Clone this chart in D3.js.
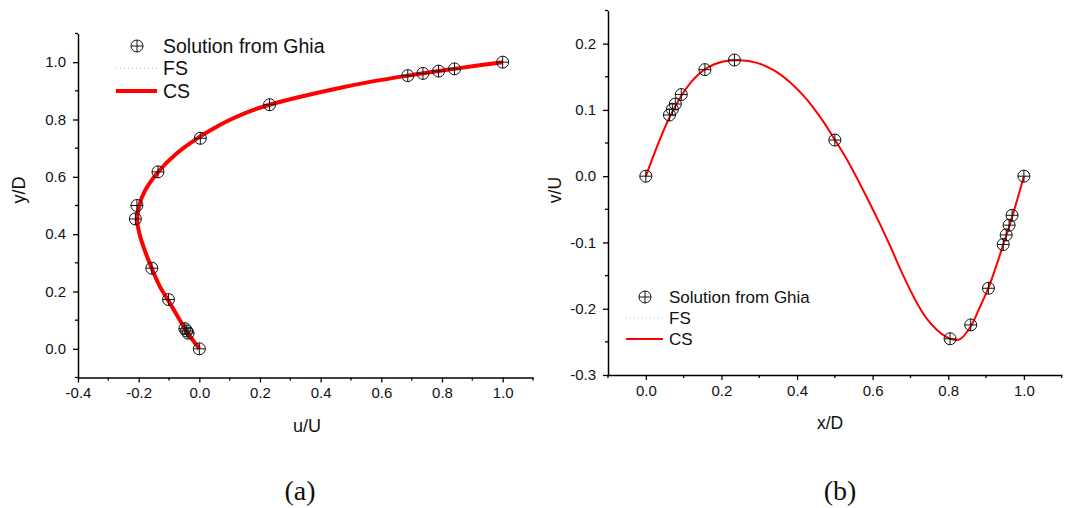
<!DOCTYPE html>
<html><head><meta charset="utf-8">
<script src="https://cdn.jsdelivr.net/npm/d3@7"></script>
<style>body{margin:0;background:#fff}svg{display:block}</style>
</head><body>
<svg id="c" width="1066" height="508"></svg>
<script>
// ---- Data: (a) u-velocity along vertical centerline ----
const ghiaA_u = [1.0, 0.84123, 0.78871, 0.73722, 0.68717, 0.23151, 0.00332, -0.13641, -0.20581, -0.2109, -0.15662, -0.1015, -0.04775, -0.04192, -0.03717, 0.0];
const ghiaA_y = [1.0, 0.9766, 0.9688, 0.9609, 0.9531, 0.8516, 0.7344, 0.6172, 0.5, 0.4531, 0.2813, 0.1719, 0.0703, 0.0625, 0.0547, 0.0];
const csA_y = [0, 0.02, 0.06, 0.1, 0.168, 0.217, 0.281, 0.356, 0.40, 0.45, 0.50, 0.55, 0.618, 0.682, 0.74, 0.7765, 0.8045, 0.8302, 0.8516, 0.8785, 0.9075, 0.9287, 0.9531, 0.9766, 1.0];
const csA_u = [0, -0.014, -0.042, -0.064, -0.102, -0.13, -0.157, -0.184, -0.197, -0.205, -0.198, -0.18, -0.135, -0.074, 0.002, 0.06, 0.112, 0.17, 0.2315, 0.33, 0.45, 0.55, 0.687, 0.84, 1.0];
// ---- Data: (b) v-velocity along horizontal centerline ----
const ghiaB_x = [1.0, 0.9688, 0.9609, 0.9531, 0.9453, 0.9063, 0.8594, 0.8047, 0.5, 0.2344, 0.1563, 0.0938, 0.0781, 0.0703, 0.0625, 0.0];
const ghiaB_v = [0.0, -0.05906, -0.07391, -0.08864, -0.10313, -0.16914, -0.22445, -0.24533, 0.05454, 0.17527, 0.16077, 0.12317, 0.1089, 0.10091, 0.09233, 0.0];
const csB_x = [0, 0.064, 0.117, 0.161, 0.205, 0.249, 0.294, 0.338, 0.382, 0.421, 0.443, 0.47, 0.5, 0.54, 0.589, 0.62, 0.646, 0.681, 0.712, 0.743, 0.77, 0.796, 0.815, 0.831, 0.858, 0.884, 0.906, 0.929, 0.946, 0.964, 1.0];
const csB_v = [0, 0.09, 0.14, 0.163, 0.173, 0.175, 0.171, 0.160, 0.1415, 0.119, 0.1035, 0.082, 0.055, 0.017, -0.037, -0.073, -0.105, -0.150, -0.186, -0.215, -0.232, -0.243, -0.247, -0.246, -0.228, -0.197, -0.169, -0.132, -0.102, -0.071, 0];
// ---- Tick values ----
const ticksA_x = [-0.4, -0.2, 0.0, 0.2, 0.4, 0.6, 0.8, 1.0];
const minorA_x = [-0.3, -0.1, 0.1, 0.3, 0.5, 0.7, 0.9, 1.1];
const ticksA_y = [0.0, 0.2, 0.4, 0.6, 0.8, 1.0];
const minorA_y = [-0.1, 0.1, 0.3, 0.5, 0.7, 0.9, 1.1];
const ticksB_x = [0.0, 0.2, 0.4, 0.6, 0.8, 1.0];
const minorB_x = [-0.1, 0.1, 0.3, 0.5, 0.7, 0.9, 1.1];
const ticksB_y = [-0.3, -0.2, -0.1, 0.0, 0.1, 0.2];
const minorB_y = [-0.25, -0.15, -0.05, 0.05, 0.15, 0.25];
const legendLabels = ["Solution from Ghia", "FS", "CS"];

const svg = d3.select("#c");
const FONT = "Liberation Sans, Arial, sans-serif";

function panel(cfg) {
  const x = d3.scaleLinear().domain(cfg.xd).range(cfg.xr);
  const y = d3.scaleLinear().domain(cfg.yd).range(cfg.yr);
  const g = svg.append("g");
  const f1 = d3.format(".1f");
  const fmt = d => f1(d).replace("\u2212", "-");
  const xa = d3.axisBottom(x).tickValues(cfg.tx).tickFormat(fmt).tickSize(5).tickSizeOuter(0).tickPadding(5);
  const ya = d3.axisLeft(y).tickValues(cfg.ty).tickFormat(fmt).tickSize(5).tickSizeOuter(0).tickPadding(7);
  const gx = g.append("g").attr("transform", `translate(0,${cfg.yr[0]})`).call(xa);
  const gy = g.append("g").attr("transform", `translate(${cfg.xr[0]},0)`).call(ya);
  [gx, gy].forEach(a => {
    a.select(".domain").attr("stroke", "#000").attr("stroke-width", 1.5);
    a.selectAll(".tick line").attr("stroke", "#000").attr("stroke-width", 1.3);
    a.selectAll("text").attr("font-family", FONT).attr("font-size", cfg.tickFs).attr("fill", "#111");
  });
  g.append("g").selectAll("line").data(cfg.mx).join("line")
    .attr("x1", d => x(d)).attr("x2", d => x(d)).attr("y1", cfg.yr[0]).attr("y2", cfg.yr[0] + 3)
    .attr("stroke", "#000").attr("stroke-width", 1.3);
  g.append("g").selectAll("line").data(cfg.my).join("line")
    .attr("y1", d => y(d)).attr("y2", d => y(d)).attr("x1", cfg.xr[0]).attr("x2", cfg.xr[0] - 3)
    .attr("stroke", "#000").attr("stroke-width", 1.3);
  g.append("text").attr("x", cfg.xtPos[0]).attr("y", cfg.xtPos[1]).attr("text-anchor", "middle")
    .attr("font-family", FONT).attr("font-size", cfg.titleFs).attr("fill", "#111").text(cfg.xt);
  g.append("text").attr("transform", `translate(${cfg.ytPos[0]},${cfg.ytPos[1]}) rotate(-90)`).attr("text-anchor", "middle")
    .attr("font-family", FONT).attr("font-size", cfg.titleFs).attr("fill", "#111").text(cfg.yt);
  const pts = cfg.cx.map((d, i) => [d, cfg.cy[i]]);
  g.append("path").datum(pts)
    .attr("d", d3.line().x(d => x(d[0])).y(d => y(d[1])).curve(d3.curveCatmullRom.alpha(0.5)))
    .attr("fill", "none").attr("stroke", "#ff0000").attr("stroke-width", cfg.lw).attr("stroke-linejoin", "round");
  const gp = cfg.gx.map((d, i) => [d, cfg.gy[i]]);
  const mk = g.append("g").selectAll("g").data(gp).join("g")
    .attr("transform", d => `translate(${x(d[0])},${y(d[1])})`);
  marker(mk, cfg.mr);
  const L = g.append("g").attr("transform", `translate(${cfg.leg[0]},${cfg.leg[1]})`);
  const sym = L.append("g").attr("transform", `translate(${cfg.legSymX},0)`);
  marker(sym, cfg.mr);
  L.append("line").attr("x1", cfg.legLine[0]).attr("x2", cfg.legLine[1]).attr("y1", cfg.legDy).attr("y2", cfg.legDy)
    .attr("stroke", "#bbb").attr("stroke-width", 1).attr("stroke-dasharray", "1,3");
  L.append("line").attr("x1", cfg.legLine[0]).attr("x2", cfg.legLine[1]).attr("y1", 2 * cfg.legDy).attr("y2", 2 * cfg.legDy)
    .attr("stroke", "#ff0000").attr("stroke-width", cfg.lw);
  L.selectAll("text").data(legendLabels).join("text")
    .attr("x", cfg.legText).attr("y", (d, i) => i * cfg.legDy).attr("dy", "0.35em")
    .attr("font-family", FONT).attr("font-size", cfg.legFs).attr("fill", "#111").text(d => d);
}

function marker(sel, r) {
  sel.append("circle").attr("r", r).attr("fill", "none").attr("stroke", "#111").attr("stroke-width", 1);
  sel.append("line").attr("x1", -r).attr("x2", r).attr("stroke", "#111").attr("stroke-width", 1);
  sel.append("line").attr("y1", -r).attr("y2", r).attr("stroke", "#111").attr("stroke-width", 1);
}

panel({
  xd: [-0.4, 1.1], xr: [78, 533], yd: [-0.1, 1.1], yr: [377.5, 33.5],
  tx: ticksA_x, mx: minorA_x, ty: ticksA_y, my: minorA_y,
  tickFs: 15, titleFs: 18, xt: "u/U", yt: "y/D", xtPos: [307, 432], ytPos: [25, 190],
  cx: csA_u, cy: csA_y, gx: ghiaA_u, gy: ghiaA_y, lw: 4, mr: 6,
  leg: [0, 46], legSymX: 137, legLine: [116, 157], legText: 163, legDy: 22.5, legFs: 19.5
});
panel({
  xd: [-0.1, 1.1], xr: [608, 1061.7], yd: [-0.3, 0.25], yr: [375, 10.5],
  tx: ticksB_x, mx: minorB_x, ty: ticksB_y, my: minorB_y,
  tickFs: 15, titleFs: 17.5, xt: "x/D", yt: "v/U", xtPos: [830, 429], ytPos: [561, 190],
  cx: csB_x, cy: csB_v, gx: ghiaB_x, gy: ghiaB_v, lw: 2, mr: 6,
  leg: [0, 297], legSymX: 645, legLine: [626, 663], legText: 669, legDy: 21, legFs: 17
});

svg.append("text").attr("x", 300).attr("y", 500).attr("text-anchor", "middle")
  .attr("font-family", "Liberation Serif, Times New Roman, serif").attr("font-size", 28).attr("fill", "#111").text("(a)");
svg.append("text").attr("x", 840).attr("y", 500).attr("text-anchor", "middle")
  .attr("font-family", "Liberation Serif, Times New Roman, serif").attr("font-size", 28).attr("fill", "#111").text("(b)");
</script>
</body></html>
